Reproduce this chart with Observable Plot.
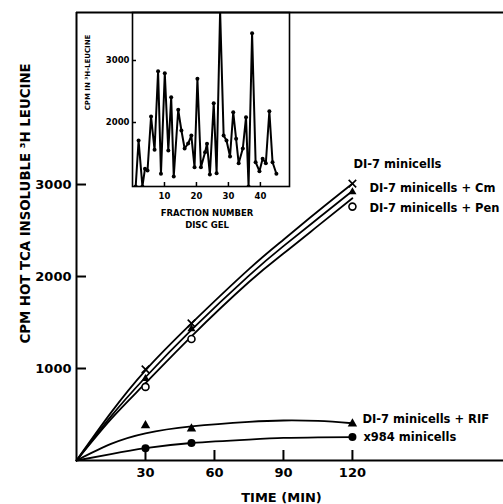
<!DOCTYPE html>
<html><head><meta charset="utf-8">
<script src="https://cdn.jsdelivr.net/npm/d3@7"></script>
<script src="https://cdn.jsdelivr.net/npm/@observablehq/plot@0.6"></script>
<style>
body{margin:0;background:#fff;}
#wrap{position:relative;width:503px;height:504px;}
#inset{position:absolute;left:78px;top:0;}
</style></head><body><div id="wrap"><div id="main"></div><div id="inset"></div></div>
<script>
// ---- main chart data ----
const times = [30, 50, 120];
const di7 = [990, 1490, 3010];
const di7Cm = [890, 1430, 2920];
const di7Pen = [800, 1320, 2760];
const di7Rif = [380, 345, 400];
const x984 = [134, 190, 255];
// fitted curves
const fitTimes = [0, 15, 30, 50, 75, 90, 105, 120];
const fitDi7 = [0, 520, 980, 1490, 2080, 2400, 2710, 3010];
const fitCm = [0, 480, 905, 1420, 2010, 2330, 2630, 2930];
const fitPen = [0, 450, 840, 1350, 1940, 2250, 2550, 2850];
const fitRif = [0, 180, 295, 370, 420, 435, 430, 405];
const fitX984 = [0, 70, 134, 190, 228, 245, 252, 255];
const seriesNames = ["DI-7 minicells", "DI-7 minicells + Cm", "DI-7 minicells + Pen", "DI-7 minicells + RIF", "x984 minicells"];
const xTicks = [30, 60, 90, 120];
const yTicks = [1000, 2000, 3000];
const xMax = 185.7, yMax = 4870;
const xLabel = "TIME (MIN)";
const yLabel = "CPM HOT TCA INSOLUBLE ³H LEUCINE";

// ---- inset data ----
const fractions = [1.0,1.9,3.1,3.9,4.7,5.8,6.9,8.0,8.9,10.1,11.2,12.1,12.9,14.3,15.3,16.3,17.4,18.4,19.4,20.3,21.4,22.7,23.3,24.2,25.4,26.3,27.4,28.5,29.4,30.5,31.5,32.4,33.2,34.5,35.5,36.3,37.4,38.5,39.7,40.7,41.7,42.8,43.8,45.0];
const cpm = [970,1710,970,1253,1226,2097,1560,2827,1173,2795,1548,2408,1129,2205,1871,1581,1661,1790,1279,2705,1279,1521,1656,1161,2311,1182,3800,1790,1710,1452,2166,1737,1344,1581,2085,970,3440,1360,1215,1415,1344,2182,1360,1173];
const insetXTicks = [10, 20, 30, 40];
const insetYTicks = [2000, 3000];
const insetXDomain = [0, 49.1], insetYDomain = [968, 3774];
const insetXLabel = "FRACTION NUMBER\nDISC GEL";
const insetYLabel = "CPM IN ³H-LEUCINE";

// ---- build tables ----
const fits = [fitDi7, fitCm, fitPen, fitRif, fitX984];
const fitRows = fits.flatMap((arr, s) => fitTimes.map((t, i) => ({t, v: arr[i], s: seriesNames[s]})));
const rowsOf = (arr) => times.map((t, i) => ({t, v: arr[i]}));
const labelStyle = [
  {dx: 1, dy: -19}, {dx: 17, dy: -4}, {dx: 17, dy: 2}, {dx: 10, dy: -4}, {dx: 11, dy: 0}
];
const allSeries = [di7, di7Cm, di7Pen, di7Rif, x984];
const font = "DejaVu Sans";

const W = 503, H = 504, mL = 76, mR = 0, mT = 12, mB = 44;
const plotW = W - mL - mR, plotH = H - mT - mB;
// tick length of 10px expressed in each scale's units
const tickLenX = 10 / plotW * xMax, tickLenY = 10 / plotH * yMax;

const main = Plot.plot({
  width: W, height: H,
  marginLeft: mL, marginRight: mR, marginTop: mT, marginBottom: mB,
  style: {fontFamily: font, fontWeight: "bold", fontSize: "13px", color: "black", background: "white"},
  x: {domain: [0, xMax], label: null},
  y: {domain: [0, yMax], label: null},
  marks: [
    Plot.axisX({ticks: xTicks, tickSize: 0, tickPadding: 7, tickFormat: d => String(d), fontSize: 13, label: null}),
    Plot.axisY({ticks: yTicks, tickSize: 0, tickPadding: 5, tickFormat: d => String(d), fontSize: 13, label: null}),
    Plot.ruleX(xTicks, {x: d => d, y1: 0, y2: tickLenY, stroke: "black", strokeWidth: 2}),
    Plot.ruleY(yTicks, {y: d => d, x1: 0, x2: tickLenX, stroke: "black", strokeWidth: 2}),
    Plot.ruleX([0], {strokeWidth: 2}),
    Plot.ruleY([0], {strokeWidth: 2}),
    Plot.ruleY([yMax], {strokeWidth: 2}),
    Plot.line(fitRows, {x: "t", y: "v", z: "s", curve: "natural", stroke: "black", strokeWidth: 1.8}),
    Plot.dot(rowsOf(di7), {x: "t", y: "v", symbol: "times", r: 3.5, stroke: "black", strokeWidth: 1.6}),
    Plot.dot(rowsOf(di7Cm), {x: "t", y: "v", symbol: "triangle", r: 3, fill: "black", stroke: "none"}),
    Plot.dot(rowsOf(di7Pen), {x: "t", y: "v", symbol: "circle", r: 3.5, fill: "white", stroke: "black", strokeWidth: 1.6}),
    Plot.dot(rowsOf(di7Rif), {x: "t", y: "v", symbol: "triangle", r: 3.5, fill: "black", stroke: "none"}),
    Plot.dot(rowsOf(x984), {x: "t", y: "v", symbol: "circle", r: 4, fill: "black", stroke: "none"}),
    ...allSeries.map((arr, s) => Plot.text([seriesNames[s]], {
      x: times[times.length - 1], y: arr[arr.length - 1], text: d => d,
      textAnchor: "start", fontSize: 11.5, fontWeight: "bold", fill: "black", ...labelStyle[s]
    })),
    Plot.text([xLabel], {frameAnchor: "bottom", textAnchor: "middle", dx: -8.5, dy: 41, fontSize: 13, fontWeight: "bold", fill: "black"}),
    Plot.text([yLabel], {frameAnchor: "left", textAnchor: "middle", rotate: -90, dx: -51, dy: -33, fontSize: 13.3, fontWeight: "bold", fill: "black"})
  ]
});
document.getElementById("main").appendChild(main);

const iW = 216, iH = 230, iL = 54, iR = 5, iT = 12, iB = 44;
const iPlotW = iW - iL - iR, iPlotH = iH - iT - iB;
const iTickX = 4 / iPlotW * (insetXDomain[1] - insetXDomain[0]);
const iTickY = 4 / iPlotH * (insetYDomain[1] - insetYDomain[0]);
const insetRows = fractions.map((f, i) => ({f, c: cpm[i]}));
const inset = Plot.plot({
  width: iW, height: iH,
  marginLeft: iL, marginRight: iR, marginTop: iT, marginBottom: iB,
  style: {fontFamily: font, fontWeight: "bold", fontSize: "8.5px", color: "black", background: "transparent"},
  x: {domain: insetXDomain, label: null},
  y: {domain: insetYDomain, label: null},
  marks: [
    Plot.frame({stroke: "black", strokeWidth: 1.6}),
    Plot.axisX({ticks: insetXTicks, tickSize: 0, tickPadding: 6, tickFormat: d => String(d), fontSize: 8.5, label: null}),
    Plot.axisY({ticks: insetYTicks, tickSize: 0, tickPadding: 3, tickFormat: d => String(d), fontSize: 8.5, label: null}),
    Plot.ruleX(insetXTicks, {x: d => d, y1: insetYDomain[0], y2: insetYDomain[0] + iTickY, stroke: "black", strokeWidth: 1.5}),
    Plot.ruleY(insetYTicks, {y: d => d, x1: insetXDomain[0], x2: insetXDomain[0] + iTickX, stroke: "black", strokeWidth: 1.5}),
    Plot.line(insetRows, {x: "f", y: "c", stroke: "black", strokeWidth: 2, clip: true}),
    Plot.dot(insetRows, {x: "f", y: "c", r: 2, fill: "black", stroke: "none", clip: true}),
    Plot.text([insetXLabel], {frameAnchor: "bottom", textAnchor: "middle", lineAnchor: "top", dx: -4, dy: 20, fontSize: 8.5, lineHeight: 1.5, fontWeight: "bold", fill: "black"}),
    Plot.text([insetYLabel], {frameAnchor: "left", textAnchor: "middle", rotate: -90, dx: -45, dy: -27, fontSize: 7, fontWeight: "bold", fill: "black"})
  ]
});
document.getElementById("inset").appendChild(inset);
</script></body></html>
